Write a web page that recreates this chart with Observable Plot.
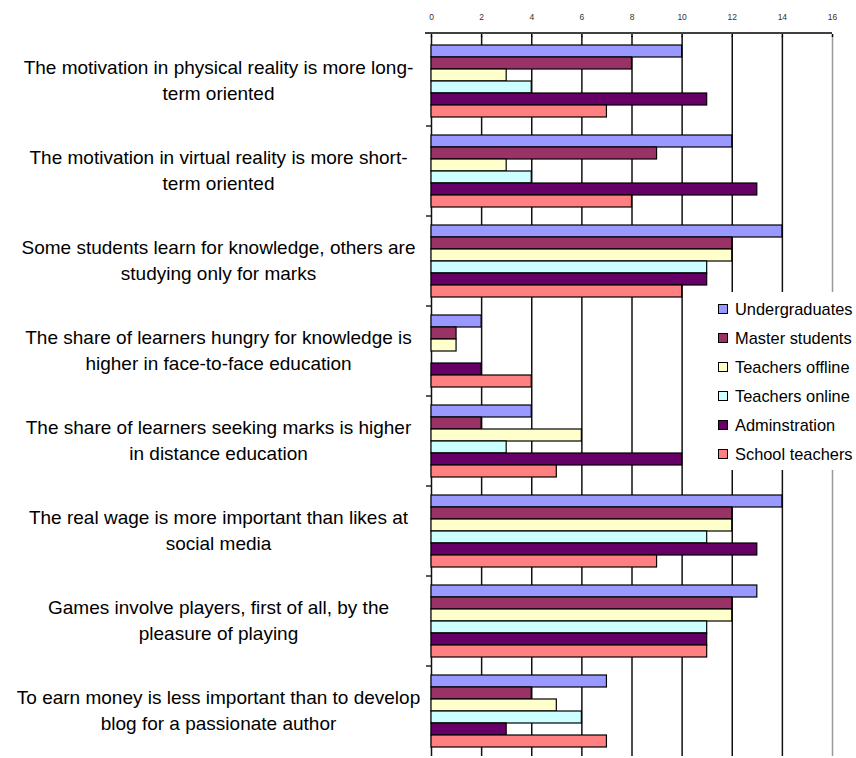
<!DOCTYPE html>
<html>
<head>
<meta charset="utf-8">
<script src="https://cdn.jsdelivr.net/npm/d3@7"></script>
<script src="https://cdn.jsdelivr.net/npm/@observablehq/plot@0.6"></script>
<style>
  html, body { margin: 0; padding: 0; background: #fff; }
  #wrap { position: relative; width: 856px; height: 758px; font-family: "Liberation Sans", Arial, sans-serif; }
  #legend { position: absolute; left: 713px; top: 292px; width: 143px; height: 178px; background: #fff; }
  .row { position: absolute; left: 5px; height: 20px; display: flex; align-items: center; font-size: 16.4px; color: #000; white-space: nowrap; }
  .sw { width: 8px; height: 8px; border: 1px solid #000; margin-right: 7px; }
</style>
</head>
<body>
<div id="wrap">
  <div id="chart"></div>
  <div id="legend"></div>
</div>
<script>
// Survey statements (category labels, line breaks as displayed)
const questions = [
  "The motivation in physical reality is more long-\nterm oriented",
  "The motivation in virtual reality is more short-\nterm oriented",
  "Some students learn for knowledge, others are\nstudying only for marks",
  "The share of learners hungry for knowledge is\nhigher in face-to-face education",
  "The share of learners seeking marks is higher\nin distance education",
  "The real wage is more important than likes at\nsocial media",
  "Games involve players, first of all, by the\npleasure of playing",
  "To earn money is less important than to develop\nblog for a passionate author"
];

// Respondent groups
const series = ["Undergraduates", "Master students", "Teachers offline", "Teachers online", "Adminstration", "School teachers"];
const colors = ["#9999FF", "#993366", "#FFFFCC", "#CCFFFF", "#660066", "#FF8080"];

// Number of respondents agreeing, one value per statement
const undergraduates  = [10, 12, 14, 2, 4, 14, 13, 7];
const masterStudents  = [8, 9, 12, 1, 2, 12, 12, 4];
const teachersOffline = [3, 3, 12, 1, 6, 12, 12, 5];
const teachersOnline  = [4, 4, 11, 0, 3, 11, 11, 6];
const adminstration   = [11, 13, 11, 2, 10, 13, 11, 3];
const schoolTeachers  = [7, 8, 10, 4, 5, 9, 11, 7];

const xTicks = [0, 2, 4, 6, 8, 10, 12, 14, 16];

const seriesValues = [undergraduates, masterStudents, teachersOffline, teachersOnline, adminstration, schoolTeachers];
const rows = [];
questions.forEach((q, qi) => {
  series.forEach((s, si) => rows.push({question: q, group: s, value: seriesValues[si][qi]}));
});

const chart = Plot.plot({
  width: 856,
  height: 758,
  marginTop: 33,
  marginBottom: 0,
  marginLeft: 431,
  marginRight: 24,
  style: {fontFamily: "Liberation Sans, Arial, sans-serif", background: "transparent"},
  x: {domain: [0, 16], axis: null},
  y: {domain: series, paddingInner: 0, paddingOuter: 0.75, axis: null},
  fy: {domain: questions, padding: 0, axis: null},
  color: {domain: series, range: colors},
  marks: [
    Plot.gridX(xTicks.filter(t => t < 16), {stroke: "#111", strokeOpacity: 1, strokeWidth: 1.5}),
    Plot.gridX(xTicks.filter(t => t === 16), {stroke: "#999", strokeOpacity: 1, strokeWidth: 1.5}),
    Plot.barX(rows, {
      fy: "question", y: "group", x: "value", fill: "group",
      stroke: "#000", strokeWidth: 1.2, insetTop: 0, insetBottom: 0
    }),
    Plot.text(questions, {
      fy: d => d, text: d => d, frameAnchor: "left", dx: -213, dy: -2.5,
      textAnchor: "middle", lineHeight: 1.33, fontSize: 19, fill: "#000"
    }),
    Plot.axisX(xTicks, {
      anchor: "top", label: null, tickSize: 3, tickPadding: 14,
      fontSize: 8.5, fill: "#333", stroke: "#000", strokeWidth: 1.5
    })
  ]
});

document.getElementById("chart").appendChild(chart);

// Top axis line and category separator ticks on the left edge
const xs = chart.scale("x");
const fys = chart.scale("fy");
const svg = d3.select(chart);
const x0 = xs.apply(0), x16 = xs.apply(16);
const yTop = fys.range[0];
const step = (fys.range[1] - fys.range[0]) / questions.length;
svg.append("line")
  .attr("x1", x0 - 6).attr("x2", x16)
  .attr("y1", yTop).attr("y2", yTop)
  .attr("stroke", "#000").attr("stroke-width", 1.5);
questions.slice(0, -1).forEach((q, i) => {
  const y = fys.apply(q) + (fys.bandwidth ?? step);
  svg.append("line")
    .attr("x1", x0 - 5).attr("x2", x0)
    .attr("y1", y).attr("y2", y)
    .attr("stroke", "#000").attr("stroke-width", 1.3);
});

// Legend
const legend = d3.select("#legend");
series.forEach((s, i) => {
  const row = legend.append("div").attr("class", "row").style("top", (7 + 29 * i) + "px");
  row.append("div").attr("class", "sw").style("background", colors[i]);
  row.append("span").text(s);
});
</script>
</body>
</html>
